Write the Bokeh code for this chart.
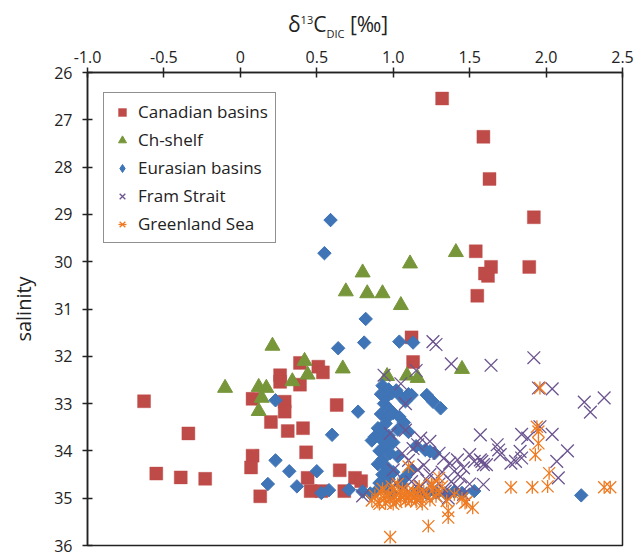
from bokeh.plotting import figure
from bokeh.models import Range1d, FixedTicker, Legend, LegendItem, Div
from bokeh.layouts import column
from bokeh.embed import file_html
from bokeh.resources import INLINE
import math

# ---------------- data ----------------
can_x = [1.32, 1.59, 1.63, 1.92, 1.54, 1.64, 1.62, 1.60, 1.89, 1.55, 1.12, 1.13,
         0.39, 0.51, 0.54, 0.26, 0.26, 0.39, 0.08, 0.29, 0.29, -0.63, 0.63, 0.20,
         -0.34, 0.31, 0.41, 0.43, 0.08, 0.07, 0.65, -0.55, -0.39, -0.23, 0.44,
         0.46, 0.53, 0.68, 0.13, 0.75, 0.79]
can_y = [26.55, 27.36, 28.25, 29.06, 29.78, 30.11, 30.30, 30.25, 30.11, 30.72, 31.60, 32.12,
         32.14, 32.22, 32.34, 32.40, 32.54, 32.60, 32.90, 32.96, 33.17, 32.95, 33.03, 33.39,
         33.63, 33.58, 33.52, 34.03, 34.10, 34.35, 34.41, 34.48, 34.56, 34.59, 34.57,
         34.85, 34.85, 34.85, 34.96, 34.57, 34.64]

shelf_x = [1.41, 1.11, 0.80, 0.69, 0.83, 0.93, 1.05, 0.21, 0.67, 0.42, 0.44, 0.34,
           0.12, 0.17, -0.10, 0.14, 0.12, 1.45, 0.96, 1.09, 1.16]
shelf_y = [29.80, 30.04, 30.23, 30.63, 30.67, 30.67, 30.92, 31.78, 32.26, 32.10, 32.39, 32.53,
           32.65, 32.67, 32.67, 32.88, 33.16, 32.27, 32.42, 32.41, 32.46]

eur_x = [0.59, 0.55, 0.82, 0.81, 0.64, 1.04, 1.13, 0.23, 0.60, 0.23, 0.32, 0.50,
         0.18, 0.37, 0.53, 0.58, 0.71, 0.77, 1.12, 1.22, 1.26, 1.31, 1.24, 1.45,
         1.53, 2.23,
         0.93, 0.97, 0.92, 0.95, 0.99, 1.02, 1.05, 1.08, 1.10, 0.94, 0.97, 0.92,
         0.96, 1.00, 1.04, 1.07, 0.95, 0.90, 0.93, 0.88, 0.86, 0.92, 0.97, 1.00,
         0.95, 0.91, 0.98, 1.03, 0.93, 0.90, 0.96, 1.00, 0.93, 0.97, 0.91, 0.95,
         0.89, 0.99, 1.05, 1.08, 1.12, 1.16, 1.22, 1.28, 1.35, 1.40, 0.85, 0.80,
         1.15, 1.21, 1.27, 1.10, 1.03]
eur_y = [29.12, 29.82, 31.21, 31.71, 31.83, 31.69, 31.71, 32.93, 33.66, 34.20, 34.43, 34.43,
         34.70, 34.75, 34.89, 34.83, 34.82, 33.17, 32.82, 32.82, 32.96, 33.10, 34.01, 34.89,
         34.85, 34.94,
         32.62, 32.70, 32.80, 32.88, 32.78, 32.72, 32.85, 32.95, 32.80, 33.00, 33.10, 33.22,
         33.30, 33.20, 33.28, 33.40, 33.42, 33.52, 33.60, 33.70, 33.78, 33.75, 33.68, 33.82,
         33.90, 34.00, 34.05, 34.12, 34.18, 34.28, 34.35, 34.45, 34.50, 34.60, 34.68, 34.78,
         34.85, 34.88, 34.70, 34.55, 34.40, 34.85, 34.90, 34.88, 34.92, 34.86, 34.90, 34.86,
         33.90, 33.98, 34.05, 33.60, 33.55]

fram_x = [1.26, 1.28, 1.38, 1.64, 0.94, 1.15, 1.05, 1.08, 0.98, 1.08, 1.57, 1.18,
          1.24, 1.16, 1.30, 1.33, 1.37, 1.42, 1.50, 1.53, 1.58, 1.61, 1.68, 1.92,
          1.95, 2.04, 2.25, 2.29, 2.38, 1.96, 2.04, 1.84, 1.88, 2.14, 1.69, 1.70,
          1.77, 1.80, 1.83, 1.84, 2.07, 2.08, 1.57, 1.59, 1.46, 1.40, 1.59,
          1.12, 1.18, 1.22, 1.26, 1.30, 1.34, 1.38, 1.42, 1.46, 1.50, 1.28, 1.20,
          1.14, 1.36, 1.44, 1.24, 1.32, 1.10, 1.05, 1.16, 1.20, 1.10, 1.06, 1.13,
          1.00, 1.02, 0.80]
fram_y = [31.69, 31.75, 32.16, 32.19, 32.40, 32.30, 32.58, 33.00, 33.63, 33.56, 33.66, 33.73,
          33.80, 33.87, 34.05, 34.16, 34.26, 34.19, 34.08, 34.22, 34.22, 34.29, 33.87, 32.03,
          32.67, 32.69, 32.97, 33.18, 32.88, 33.49, 33.65, 33.65, 33.73, 34.00, 33.98, 34.08,
          34.26, 34.22, 34.01, 34.15, 34.22, 34.57, 34.19, 34.29, 34.36, 34.43, 34.71,
          34.65, 34.75, 34.62, 34.80, 34.70, 34.85, 34.65, 34.78, 34.92, 34.70, 34.95, 34.92,
          34.98, 35.00, 34.55, 34.50, 34.45, 34.85, 34.95, 34.40, 34.30, 34.20, 34.05, 33.95,
          34.40, 34.70, 34.95]

gre_x = [1.10, 1.30, 1.35, 1.36, 1.36, 1.47, 1.52, 1.48, 1.23, 0.98, 1.96, 1.94,
         1.95, 1.95, 1.93, 2.02, 2.01, 1.77, 1.91, 2.38, 2.42, 1.26,
         0.86, 0.88, 0.90, 0.92, 0.94, 0.95, 0.97, 0.98, 1.00, 1.01, 1.02, 1.04,
         1.05, 1.06, 1.07, 1.08, 1.09, 1.10, 1.11, 1.12, 1.13, 1.14, 1.15, 1.16,
         1.18, 1.20, 1.22, 1.24, 1.26, 1.28, 1.30, 0.93, 0.99, 1.03, 1.17, 0.91,
         1.19, 1.25, 1.32, 1.40, 1.45, 1.05, 0.96, 1.00]
gre_y = [34.33, 34.57, 35.06, 35.27, 35.41, 35.10, 35.20, 35.08, 35.59, 35.82, 32.67, 33.49,
         33.59, 33.84, 34.08, 34.47, 34.75, 34.77, 34.77, 34.77, 34.77, 34.72,
         35.05, 34.95, 35.08, 34.88, 35.00, 35.10, 34.92, 35.03, 34.85, 34.98, 35.08, 34.90,
         35.02, 34.80, 34.95, 35.06, 34.88, 35.00, 34.92, 35.05, 34.84, 34.97, 35.07, 34.90,
         35.00, 34.86, 34.95, 35.04, 34.82, 34.96, 34.88, 34.80, 34.75, 34.70, 34.75, 35.12,
         35.12, 34.70, 34.75, 34.92, 35.00, 34.95, 34.95, 35.12]

x_ticks = [-1.0, -0.5, 0.0, 0.5, 1.0, 1.5, 2.0, 2.5]
x_tick_labels = ["-1.0", "-0.5", "0", "0.5", "1.0", "1.5", "2.0", "2.5"]
y_ticks = [26, 27, 28, 29, 30, 31, 32, 33, 34, 35, 36]

names = ["Canadian basins", "Ch-shelf", "Eurasian basins", "Fram Strait", "Greenland Sea"]
y_title = "salinity"

# ---------------- figure ----------------
FONT = "Open Sans"
INK = "#222222"
TITLE_H = 46

p = figure(width=644, height=556 - TITLE_H, x_range=Range1d(-1.0, 2.5), y_range=Range1d(36, 26),
           x_axis_location="above", output_backend="svg", toolbar_location=None,
           min_border_left=87, min_border_right=22, min_border_top=72 - TITLE_H,
           min_border_bottom=11)
p.grid.visible = False
p.outline_line_color = INK
p.outline_line_width = 1.5
p.background_fill_color = "white"
p.border_fill_color = "white"
p.margin = 0

for ax in (p.xaxis[0], p.yaxis[0]):
    ax.axis_line_color = INK
    ax.axis_line_width = 1.5
    ax.major_tick_line_color = INK
    ax.major_tick_line_width = 1.5
    ax.major_tick_in = 5
    ax.major_tick_out = 5
    ax.minor_tick_line_color = None
    ax.major_label_text_font = FONT
    ax.major_label_text_font_size = "16px"
    ax.major_label_text_color = INK

p.xaxis.ticker = FixedTicker(ticks=x_ticks)
p.xaxis.major_label_overrides = {t: l for t, l in zip(x_ticks, x_tick_labels)}
p.xaxis.major_label_standoff = 5
p.yaxis.ticker = FixedTicker(ticks=y_ticks)
p.yaxis.major_label_standoff = 10
p.yaxis.axis_label = y_title
p.yaxis.axis_label_text_font = FONT
p.yaxis.axis_label_text_font_size = "20px"
p.yaxis.axis_label_text_font_style = "normal"
p.yaxis.axis_label_text_color = INK
p.yaxis.axis_label_standoff = 14

red, green, blue, purple, orange = "#BE4B48", "#77963A", "#3F74B6", "#6B548F", "#EE7A22"

r_can = p.scatter(can_x, can_y, marker="square", size=13, fill_color=red, line_color=red, line_alpha=0.4)
r_shelf = p.scatter(shelf_x, shelf_y, marker="triangle", size=15, fill_color=green, line_color=green)
# legend proxy: a diamond on the first Eurasian point, fully hidden under that point's marker
r_eur_leg = p.scatter(eur_x[:1], eur_y[:1], marker="diamond", size=13, fill_color=blue, line_color=blue)
r_eur = p.scatter(eur_x, eur_y, marker="square", angle=math.pi / 4, size=9.5, fill_color=blue, line_color=blue)
r_fram = p.scatter(fram_x, fram_y, marker="x", size=18, line_color=purple, line_width=1.3)
r_gre1 = p.scatter(gre_x, gre_y, marker="x", size=17, line_color=orange, line_width=1.3)
r_gre2 = p.scatter(gre_x, gre_y, marker="dash", angle=math.pi / 2, size=13, line_color=orange, line_width=1.3)

legend = Legend(items=[
    LegendItem(label=names[0], renderers=[r_can]),
    LegendItem(label=names[1], renderers=[r_shelf]),
    LegendItem(label=names[2], renderers=[r_eur_leg]),
    LegendItem(label=names[3], renderers=[r_fram]),
    LegendItem(label=names[4], renderers=[r_gre1, r_gre2]),
], location=(16, 302))
legend.margin = 0
legend.padding = 7
legend.spacing = 5
legend.glyph_height = 20
legend.glyph_width = 22
legend.label_height = 22
legend.label_standoff = 5
legend.label_text_font = FONT
legend.label_text_font_size = "17px"
legend.label_text_color = INK
legend.border_line_color = INK
legend.border_line_width = 1.5
legend.background_fill_alpha = 1
p.add_layout(legend)

# top axis title with superscript / subscript (real HTML text)
title_html = (
    '<div style="position:relative;width:644px;height:%dpx;">'
    '<span style="position:absolute;left:288px;top:14px;font-family:\'Open Sans\';'
    'font-size:21px;line-height:1;color:%s;white-space:nowrap;">'
    'δ<span style="font-size:11px;line-height:0;vertical-align:8px;">13</span>'
    'C<span style="font-size:11px;line-height:0;vertical-align:-6px;">DIC</span> [‰]'
    '</span></div>' % (TITLE_H, INK)
)
title = Div(text=title_html, width=644, height=TITLE_H, margin=0,
            styles={"background-color": "white"})

layout = column(title, p, spacing=0, margin=0)
open("out.html", "w").write(file_html(layout, INLINE))
